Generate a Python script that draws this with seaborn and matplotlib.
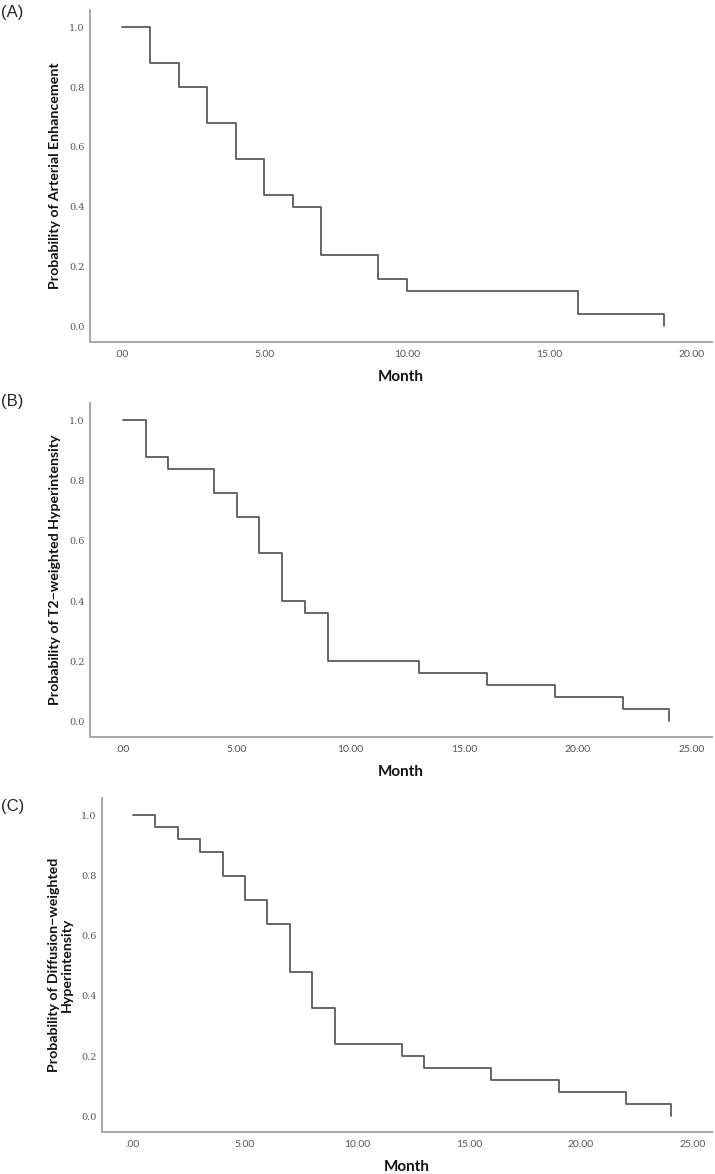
import matplotlib
matplotlib.use("Agg")
from matplotlib import pyplot as plt
import pandas as pd
import seaborn as sns

# === Kaplan-Meier style step data ===
months_a = [0, 1, 2, 3, 4, 5, 6, 7, 9, 10, 16, 19]
prob_a = [1.0, 0.88, 0.80, 0.68, 0.56, 0.44, 0.40, 0.24, 0.16, 0.12, 0.04, 0.0]

months_b = [0, 1, 2, 4, 5, 6, 7, 8, 9, 13, 16, 19, 22, 24]
prob_b = [1.0, 0.88, 0.84, 0.76, 0.68, 0.56, 0.40, 0.36, 0.20, 0.16, 0.12, 0.08, 0.04, 0.0]

months_c = [0, 1, 2, 3, 4, 5, 6, 7, 8, 9, 12, 13, 16, 19, 22, 24]
prob_c = [1.0, 0.96, 0.92, 0.88, 0.80, 0.72, 0.64, 0.48, 0.36, 0.24, 0.20, 0.16, 0.12, 0.08, 0.04, 0.0]

panel_tags = ["(A)", "(B)", "(C)"]
y_titles = [
    "Probability of Arterial Enhancement",
    "Probability of T2\u2212weighted Hyperintensity",
    "Probability of Diffusion\u2212weighted\nHyperintensity",
]
x_title = "Month"
x_max_tick = [20, 25, 25]
y_ticks = [0.0, 0.2, 0.4, 0.6, 0.8, 1.0]

sns.set_theme(style="white")
plt.rcParams["font.family"] = ["DejaVu Sans"]

label_font = ["Lato", "DejaVu Sans"]

fig = plt.figure(figsize=(7.15, 11.74), dpi=100)

# axes boxes in figure fraction: left, bottom, width, height
boxes = [
    [0.1259, 0.7087, 0.8699, 0.2828],
    [0.1259, 0.3722, 0.8699, 0.2845],
    [0.1427, 0.0358, 0.8531, 0.2845],
]
xlims = [(-1.12, 20.7), (-1.45, 25.9), (-1.38, 25.85)]
tag_y = [0.996, 0.664, 0.319]

datasets = [(months_a, prob_a), (months_b, prob_b), (months_c, prob_c)]

for i, (months, prob) in enumerate(datasets):
    ax = fig.add_axes(boxes[i])
    df = pd.DataFrame({"Month": months, "Prob": prob})
    sns.lineplot(data=df, x="Month", y="Prob", ax=ax, drawstyle="steps-post",
                 estimator=None, sort=False, color="#5a5a5a", linewidth=1.3)

    ax.set_xlim(*xlims[i])
    ax.set_ylim(-0.052, 1.058)
    xt = list(range(0, x_max_tick[i] + 1, 5))
    ax.set_xticks(xt)
    ax.set_xticklabels([".00" if v == 0 else f"{v:.2f}" for v in xt],
                       fontsize=7.5, color="#555555", family=label_font)
    ax.set_yticks(y_ticks)
    ax.set_yticklabels([f"{v:.1f}" for v in y_ticks], fontsize=7,
                       color="#555555", family="DejaVu Serif")
    ax.tick_params(axis="both", length=0)
    ax.tick_params(axis="x", pad=6)
    ax.tick_params(axis="y", pad=4)

    for side in ["top", "right"]:
        ax.spines[side].set_visible(False)
    for side in ["left", "bottom"]:
        ax.spines[side].set_color("#a8a8a8")
        ax.spines[side].set_linewidth(1.4)

    ax.set_xlabel(x_title, fontsize=11, fontweight="bold", labelpad=8,
                  family=label_font, color="#111111")
    ax.set_ylabel(y_titles[i], fontsize=10.2, fontweight="bold", color="#111111",
                  labelpad=6, linespacing=1.05, family=label_font)

    fig.text(0.002, tag_y[i], panel_tags[i], fontsize=12, family="Liberation Sans",
             ha="left", va="top")

fig.savefig("out.png", dpi=100)
